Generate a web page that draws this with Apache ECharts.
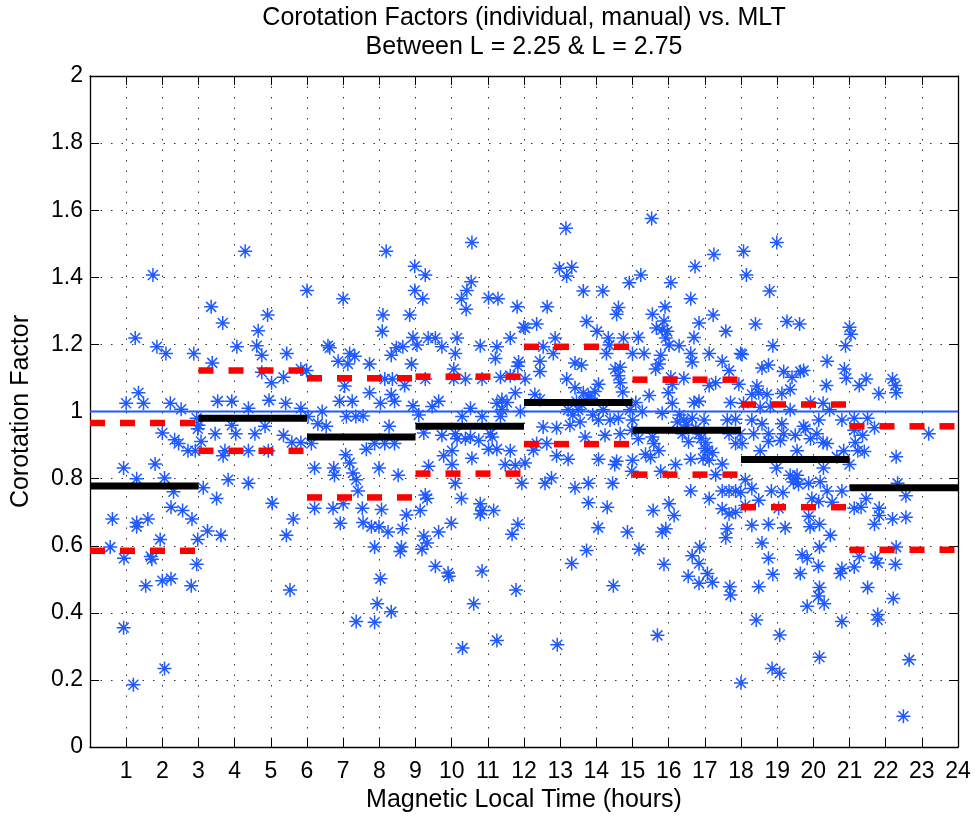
<!DOCTYPE html>
<html>
<head>
<meta charset="utf-8">
<script src="https://cdn.jsdelivr.net/npm/echarts@6/dist/echarts.min.js"></script>
<style>
html,body{margin:0;padding:0;background:#ffffff;}
#chart{width:975px;height:818px;}
</style>
</head>
<body>
<div id="chart"></div>
<script>
// ---------- text ----------
const titleLine1 = 'Corotation Factors (individual, manual) vs. MLT';
const titleLine2 = 'Between L = 2.25 & L = 2.75';
const xAxisTitle = 'Magnetic Local Time (hours)';
const yAxisTitle = 'Corotation Factor';

// ---------- axes ----------
const xMin = 0, xMax = 24, xStep = 1;
const yMin = 0, yMax = 2, yStep = 0.2;
const xTickLabels = ['', '1','2','3','4','5','6','7','8','9','10','11','12','13','14','15','16','17','18','19','20','21','22','23','24'];

// ---------- 3-hour bin statistics ----------
const binStarts = [0, 3, 6, 9, 12, 15, 18, 21];
const binEnds   = [3, 6, 9, 12, 15, 18, 21, 24];
const binMean   = [0.778, 0.980, 0.924, 0.956, 1.027, 0.944, 0.857, 0.773];
const binUpper  = [0.966, 1.122, 1.099, 1.104, 1.193, 1.095, 1.021, 0.956];
const binLower  = [0.585, 0.883, 0.744, 0.815, 0.903, 0.812, 0.715, 0.588];
const referenceLevel = 1;

// ---------- individual measurements [MLT hour, corotation factor] ----------
const pts_00_03 = [[1.74,1.407],[1.25,1.219],[1.85,1.193],[2.10,1.173],[2.87,1.173],[1.34,1.056],[1.00,1.025],[1.48,1.025],[2.22,1.025],[2.52,1.007],[2.95,0.980],[2.98,0.949],[2.00,0.936],[2.34,0.916],[2.45,0.905],[2.71,0.883],[2.91,0.883],[0.93,0.832],[1.80,0.844],[1.29,0.800],[2.06,0.802],[2.31,0.761],[2.24,0.715],[2.56,0.705],[2.82,0.680],[0.62,0.680],[1.29,0.669],[1.29,0.657],[1.60,0.680],[1.94,0.619],[0.56,0.596],[0.94,0.563],[1.68,0.568],[1.71,0.560],[2.98,0.619],[2.95,0.545],[2.24,0.502],[2.00,0.496],[1.54,0.481],[2.80,0.481],[0.93,0.356],[2.06,0.234],[1.20,0.186]];
const pts_03_06 = [[4.29,1.478],[3.35,1.312],[4.91,1.288],[3.67,1.264],[4.65,1.241],[4.06,1.193],[4.61,1.196],[4.75,1.168],[5.44,1.173],[3.38,1.145],[4.75,1.117],[5.02,1.086],[5.35,1.102],[5.83,1.127],[5.99,1.122],[3.53,1.031],[3.92,1.031],[4.38,1.010],[4.95,1.034],[5.41,1.025],[5.83,1.010],[3.00,0.959],[3.92,0.959],[3.46,0.934],[4.03,0.934],[4.56,0.934],[4.84,0.956],[5.35,0.929],[5.58,0.908],[5.83,0.908],[3.07,0.911],[3.73,0.883],[3.68,0.868],[4.38,0.883],[4.93,0.883],[3.82,0.797],[4.38,0.786],[3.13,0.773],[3.50,0.741],[5.04,0.727],[5.62,0.680],[3.25,0.644],[3.62,0.631],[5.43,0.631],[5.53,0.468],[6.00,1.361]];
const pts_06_09 = [[8.19,1.478],[8.98,1.433],[7.00,1.336],[8.98,1.361],[8.10,1.288],[8.84,1.288],[8.08,1.239],[8.93,1.221],[6.58,1.196],[6.63,1.190],[6.86,1.150],[7.13,1.142],[7.18,1.173],[7.32,1.165],[7.73,1.142],[8.33,1.168],[8.47,1.190],[8.65,1.193],[8.89,1.142],[7.04,1.076],[7.73,1.056],[8.15,1.097],[8.36,1.097],[8.70,1.078],[8.33,1.051],[6.90,1.031],[7.25,1.031],[8.03,1.025],[8.42,1.031],[8.93,1.017],[6.42,1.000],[7.09,0.985],[7.35,0.985],[7.55,0.987],[6.03,0.985],[6.30,0.964],[6.53,0.956],[8.27,0.956],[6.12,0.905],[7.64,0.888],[7.87,0.905],[8.15,0.905],[8.42,0.905],[7.07,0.871],[7.18,0.847],[6.21,0.832],[6.74,0.832],[6.76,0.810],[7.27,0.817],[7.36,0.797],[7.99,0.832],[8.52,0.810],[7.41,0.763],[6.21,0.712],[6.72,0.712],[7.00,0.725],[7.53,0.712],[8.06,0.708],[8.75,0.692],[6.92,0.667],[7.55,0.669],[7.78,0.657],[7.99,0.657],[8.24,0.641],[8.64,0.651],[7.87,0.596],[8.61,0.596],[8.58,0.583],[8.03,0.502],[7.94,0.427],[8.33,0.403],[7.36,0.374],[7.87,0.372]];
const pts_09_12 = [[10.56,1.504],[9.27,1.407],[9.20,1.336],[10.54,1.387],[10.42,1.361],[10.27,1.336],[10.40,1.305],[11.02,1.339],[11.28,1.336],[11.81,1.312],[11.99,1.251],[9.04,1.198],[9.35,1.219],[9.55,1.219],[9.73,1.193],[10.15,1.219],[10.10,1.173],[10.79,1.196],[11.25,1.193],[11.21,1.158],[11.62,1.219],[11.85,1.148],[11.83,1.135],[10.06,1.127],[9.27,1.097],[10.06,1.097],[10.38,1.097],[10.84,1.097],[11.35,1.102],[11.62,1.107],[9.64,1.031],[9.46,1.015],[9.09,0.990],[10.52,1.010],[10.29,0.985],[10.84,0.985],[11.25,1.025],[11.39,1.036],[11.53,1.027],[11.39,1.005],[11.35,0.985],[11.76,1.056],[11.90,1.000],[9.23,0.936],[9.73,0.929],[10.10,0.934],[10.15,0.919],[10.38,0.919],[10.52,0.924],[10.75,0.914],[11.07,0.934],[11.12,0.924],[11.02,0.888],[11.25,0.888],[10.01,0.883],[9.78,0.868],[9.36,0.837],[10.56,0.861],[11.62,0.883],[11.48,0.842],[11.76,0.840],[11.94,0.786],[10.10,0.786],[10.01,0.842],[9.27,0.751],[9.32,0.741],[10.27,0.741],[9.13,0.705],[10.79,0.725],[10.84,0.705],[10.79,0.695],[11.16,0.705],[9.99,0.667],[11.83,0.664],[9.64,0.641],[9.23,0.629],[9.32,0.608],[9.18,0.590],[11.67,0.634],[9.55,0.539],[9.90,0.519],[9.92,0.509],[10.84,0.525],[11.78,0.468],[10.61,0.427],[11.25,0.318],[10.30,0.295]];
const pts_12_15 = [[13.16,1.546],[12.98,1.427],[13.32,1.430],[13.18,1.404],[13.64,1.359],[14.18,1.359],[14.91,1.384],[12.64,1.312],[14.61,1.310],[14.56,1.290],[12.03,1.249],[12.35,1.261],[13.73,1.268],[14.02,1.239],[14.33,1.219],[14.75,1.219],[14.36,1.198],[12.86,1.219],[12.53,1.193],[12.81,1.173],[12.44,1.150],[12.44,1.119],[12.03,1.097],[13.41,1.145],[13.59,1.139],[14.28,1.173],[14.52,1.127],[14.66,1.132],[14.61,1.107],[14.66,1.086],[14.73,1.058],[13.18,1.097],[13.41,1.071],[14.06,1.081],[13.96,1.060],[13.64,1.056],[12.30,1.051],[12.44,1.036],[13.22,1.005],[13.50,1.005],[13.78,1.046],[14.19,1.005],[14.93,1.005],[13.55,0.969],[14.06,0.975],[14.38,0.975],[14.61,0.980],[12.53,0.954],[12.90,0.952],[13.27,0.959],[13.69,0.924],[14.24,0.929],[14.66,0.934],[14.98,0.944],[12.35,0.905],[12.63,0.905],[12.26,0.885],[12.90,0.868],[13.22,0.858],[14.06,0.858],[14.56,0.852],[14.51,0.842],[12.03,0.847],[12.76,0.802],[12.58,0.786],[13.41,0.773],[13.78,0.786],[14.45,0.786],[14.98,0.822],[13.78,0.728],[14.30,0.715],[14.05,0.654],[14.86,0.641],[13.73,0.586],[13.32,0.547],[14.47,0.481],[12.92,0.305],[13.45,1.030],[13.60,1.020],[13.85,1.040],[13.35,0.990],[13.90,0.990]];
const pts_15_18 = [[15.53,1.575],[17.25,1.468],[16.73,1.432],[15.23,1.407],[16.06,1.384],[16.61,1.336],[15.90,1.312],[15.55,1.290],[17.23,1.288],[16.84,1.264],[15.87,1.270],[15.66,1.249],[15.82,1.244],[15.96,1.239],[17.58,1.239],[15.16,1.221],[16.70,1.221],[15.92,1.219],[16.01,1.198],[16.29,1.196],[15.00,1.173],[15.32,1.173],[15.78,1.168],[16.61,1.173],[17.12,1.173],[17.99,1.173],[16.65,1.148],[17.48,1.150],[15.73,1.142],[15.64,1.127],[17.67,1.122],[16.06,1.102],[16.42,1.099],[16.10,1.081],[17.12,1.078],[17.30,1.086],[17.94,1.081],[15.46,1.048],[15.99,1.056],[15.09,1.027],[16.10,1.025],[16.70,1.027],[16.84,1.031],[17.71,1.027],[15.27,1.000],[15.82,0.995],[15.00,0.975],[16.24,0.969],[16.42,0.975],[16.65,0.980],[16.98,0.975],[17.62,0.975],[17.85,0.977],[15.16,0.919],[15.55,0.924],[16.38,0.934],[16.84,0.934],[17.02,0.908],[17.67,0.934],[17.85,0.905],[15.59,0.905],[15.73,0.883],[15.36,0.873],[15.00,0.855],[15.50,0.863],[16.19,0.842],[16.61,0.858],[17.07,0.883],[17.21,0.878],[17.12,0.855],[17.48,0.844],[15.78,0.822],[17.30,0.812],[16.61,0.763],[17.12,0.741],[17.48,0.763],[17.67,0.763],[17.85,0.763],[17.99,0.759],[16.01,0.725],[16.15,0.690],[15.57,0.705],[17.48,0.710],[17.67,0.695],[17.85,0.700],[15.92,0.651],[15.82,0.641],[17.62,0.651],[17.58,0.624],[15.18,0.590],[16.86,0.596],[16.65,0.570],[16.84,0.547],[15.87,0.545],[16.54,0.509],[17.07,0.517],[16.84,0.488],[17.21,0.491],[17.69,0.478],[17.71,0.453],[15.69,0.333],[16.30,0.990],[16.50,0.960],[16.75,0.950],[16.90,0.920],[17.00,0.890],[16.95,0.860],[16.55,0.910]];
const pts_18_21 = [[18.99,1.504],[18.07,1.478],[18.15,1.407],[18.79,1.359],[18.40,1.261],[19.27,1.268],[19.62,1.261],[21.00,1.251],[21.04,1.230],[18.88,1.196],[18.03,1.170],[20.89,1.196],[20.38,1.150],[20.86,1.127],[18.58,1.130],[18.76,1.139],[19.18,1.119],[19.64,1.119],[19.73,1.122],[19.41,1.102],[20.91,1.099],[20.36,1.078],[18.44,1.076],[18.30,1.051],[18.49,1.056],[18.72,1.051],[19.13,1.054],[19.36,1.066],[18.07,1.025],[18.53,1.013],[18.81,1.015],[19.36,1.005],[19.92,1.027],[20.27,1.025],[20.45,1.005],[18.30,0.975],[18.58,0.964],[19.13,0.964],[20.15,0.975],[20.79,0.975],[19.73,0.956],[17.98,0.934],[18.03,0.905],[18.35,0.934],[18.76,0.934],[19.18,0.934],[19.50,0.929],[19.78,0.949],[19.92,0.919],[20.10,0.934],[20.27,0.908],[20.38,0.905],[18.76,0.911],[19.09,0.914],[19.55,0.883],[18.53,0.883],[20.84,0.883],[20.65,0.865],[18.98,0.832],[20.28,0.832],[18.12,0.797],[19.36,0.810],[19.50,0.800],[19.59,0.783],[19.87,0.786],[20.19,0.791],[18.30,0.771],[18.84,0.763],[19.16,0.759],[20.38,0.763],[20.79,0.763],[18.49,0.736],[19.96,0.741],[20.15,0.732],[20.52,0.730],[18.12,0.720],[19.04,0.712],[19.87,0.688],[18.30,0.661],[18.76,0.664],[19.22,0.654],[19.91,0.657],[20.17,0.664],[20.47,0.631],[18.58,0.608],[20.17,0.596],[18.76,0.563],[19.69,0.573],[19.83,0.563],[20.14,0.539],[20.79,0.532],[20.75,0.517],[18.88,0.515],[19.64,0.517],[18.49,0.478],[20.17,0.476],[20.14,0.450],[20.30,0.427],[19.83,0.420],[20.79,0.374],[18.42,0.379],[19.07,0.334],[20.17,0.268],[18.86,0.234],[19.07,0.220],[18.00,0.191],[19.45,0.790],[19.55,0.810]];
const pts_21_24 = [[21.27,1.078],[21.46,1.097],[22.19,1.097],[22.27,1.078],[22.29,1.056],[21.81,1.054],[21.50,0.980],[21.13,0.980],[21.69,0.952],[21.13,0.944],[21.36,0.929],[21.16,0.908],[21.23,0.883],[21.41,0.881],[23.19,0.934],[22.29,0.865],[21.00,0.842],[22.33,0.786],[22.56,0.749],[21.46,0.741],[21.82,0.712],[21.32,0.715],[21.13,0.712],[21.82,0.690],[21.69,0.664],[22.19,0.680],[22.56,0.685],[22.29,0.596],[21.27,0.568],[21.71,0.563],[21.78,0.549],[22.27,0.545],[21.13,0.537],[21.50,0.476],[22.21,0.443],[21.78,0.395],[21.78,0.379],[22.65,0.260],[22.49,0.092]];

// ---------- build ----------
const allPoints = [].concat(pts_00_03, pts_03_06, pts_06_09, pts_09_12, pts_12_15, pts_15_18, pts_18_21, pts_21_24);
const meanSegs = binStarts.map((s, i) => [s, binEnds[i], binMean[i]]);
const spreadSegs = binStarts.map((s, i) => [s, binEnds[i], binUpper[i]])
  .concat(binStarts.map((s, i) => [s, binEnds[i], binLower[i]]));

const FONT = '"Liberation Sans", Arial, Helvetica, sans-serif';
const BLUE = '#1f5aff';
const FS = 23;      // tick labels
const FS_T = 25;    // title and axis labels

function segRenderer(color, width, dash) {
  return function (params, api) {
    const a = api.coord([api.value(0), api.value(2)]);
    const b = api.coord([api.value(1), api.value(2)]);
    return {
      type: 'line',
      shape: { x1: a[0], y1: a[1], x2: b[0], y2: b[1] },
      style: { stroke: color, lineWidth: width, lineDash: dash, lineCap: 'butt', fill: null }
    };
  };
}

const chart = echarts.init(document.getElementById('chart'), null, { renderer: 'canvas' });

const axisLineStyle = { show: true, onZero: false, lineStyle: { color: '#000', width: 1.3 } };
const commonTick = { show: true, inside: true, length: 9, lineStyle: { color: '#000', width: 1 } };
const gridDots = { show: true, lineStyle: { color: '#333', width: 1, type: [1.5, 9] } };

chart.setOption({
  animation: false,
  backgroundColor: '#ffffff',
  grid: { left: 90, right: 17, top: 76, bottom: 64, containLabel: false },
  graphic: [
    { type: 'text', x: 524, y: 18, style: { text: titleLine1, align: 'center', verticalAlign: 'middle', font: FS_T + 'px ' + FONT, fill: '#000' } },
    { type: 'text', x: 524, y: 47, style: { text: titleLine2, align: 'center', verticalAlign: 'middle', font: FS_T + 'px ' + FONT, fill: '#000' } }
  ],
  xAxis: [
    {
      type: 'value', min: xMin, max: xMax, interval: xStep, position: 'bottom',
      name: xAxisTitle, nameLocation: 'middle', nameGap: 39,
      nameTextStyle: { fontSize: FS_T, fontFamily: FONT, color: '#000' },
      axisLine: axisLineStyle, axisTick: commonTick, splitLine: gridDots,
      axisLabel: { show: true, margin: 13, fontSize: FS, fontFamily: FONT, color: '#000',
        formatter: v => xTickLabels[Math.round(v)] }
    },
    {
      type: 'value', min: xMin, max: xMax, interval: xStep, position: 'top',
      axisLine: axisLineStyle, axisTick: commonTick, splitLine: { show: false },
      axisLabel: { show: false }
    }
  ],
  yAxis: [
    {
      type: 'value', min: yMin, max: yMax, interval: yStep, position: 'left',
      name: yAxisTitle, nameLocation: 'middle', nameGap: 56, nameRotate: 90,
      nameTextStyle: { fontSize: FS_T, fontFamily: FONT, color: '#000' },
      axisLine: axisLineStyle, axisTick: commonTick, splitLine: gridDots,
      axisLabel: { show: true, margin: 7, fontSize: FS, fontFamily: FONT, color: '#000' }
    },
    {
      type: 'value', min: yMin, max: yMax, interval: yStep, position: 'right',
      axisLine: axisLineStyle, axisTick: commonTick, splitLine: { show: false },
      axisLabel: { show: false }
    }
  ],
  series: [
    {
      type: 'scatter', xAxisIndex: 0, yAxisIndex: 0, z: 2,
      data: allPoints,
      symbol: 'path://M0,-7L0,7M-7,0L7,0M-5,-5L5,5M-5,5L5,-5',
      symbolSize: 14,
      itemStyle: { color: 'rgba(0,0,0,0)', borderColor: BLUE, borderWidth: 1.5, opacity: 1 },
      emphasis: { disabled: true }
    },
    {
      type: 'line', xAxisIndex: 0, yAxisIndex: 0, z: 3,
      data: [[xMin, referenceLevel], [xMax, referenceLevel]],
      symbol: 'none', lineStyle: { color: BLUE, width: 2 }, silent: true
    },
    {
      type: 'custom', xAxisIndex: 0, yAxisIndex: 0, z: 4,
      data: spreadSegs, encode: { x: [0, 1], y: 2 },
      renderItem: segRenderer('#ff0000', 6.5, [15, 15]), silent: true
    },
    {
      type: 'custom', xAxisIndex: 0, yAxisIndex: 0, z: 5,
      data: meanSegs, encode: { x: [0, 1], y: 2 },
      renderItem: segRenderer('#000000', 7, null), silent: true
    }
  ]
});
</script>
</body>
</html>
